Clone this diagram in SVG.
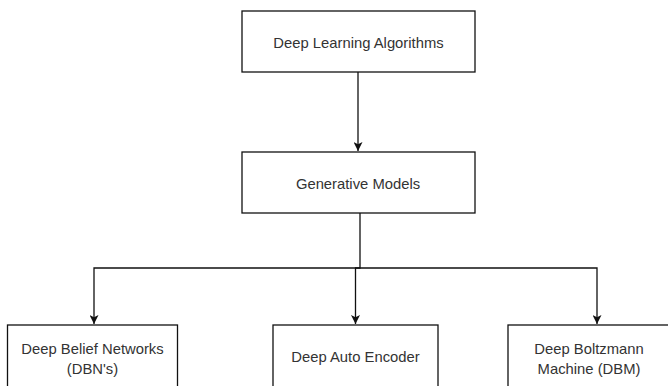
<svg xmlns="http://www.w3.org/2000/svg" width="668" height="386" viewBox="0 0 668 386">
<defs>
<style>
.box{fill:#fff;stroke:#111;stroke-width:1.3}
.t{font-family:"Liberation Sans",Arial,sans-serif;font-size:14.8px;fill:#333;text-anchor:middle}
.c{fill:none;stroke:#111;stroke-width:1.3}
</style>
<marker id="ah" viewBox="0 0 10 10" refX="10" refY="5" markerWidth="9" markerHeight="9" markerUnits="userSpaceOnUse" orient="auto">
<path d="M0,0 L10,5 L0,10 L2.5,5 Z" fill="#111"/>
</marker>
</defs>
<rect width="668" height="386" fill="#fff"/>
<g id="connectors">
<path class="c" d="M358,72 V151" marker-end="url(#ah)"/>
<path class="c" d="M360,213 V268 H94 V324" marker-end="url(#ah)"/>
<path class="c" d="M360,268 H355.5 V324" marker-end="url(#ah)"/>
<path class="c" d="M360,268 H597 V324" marker-end="url(#ah)"/>
</g>
<g id="dla">
<rect class="box" x="242" y="11" width="233" height="61"/>
<text class="t" x="358.5" y="47.5">Deep Learning Algorithms</text>
</g>
<g id="gen">
<rect class="box" x="242" y="152" width="233" height="61"/>
<text class="t" x="358" y="188.5">Generative Models</text>
</g>
<g id="dbn">
<rect class="box" x="7.5" y="325" width="170" height="70"/>
<text class="t" x="92.5" y="353.5">Deep Belief Networks</text>
<text class="t" x="92.5" y="373.5">(DBN's)</text>
</g>
<g id="dae">
<rect class="box" x="273" y="325" width="165" height="70"/>
<text class="t" x="355.5" y="361.5">Deep Auto Encoder</text>
</g>
<g id="dbm">
<rect class="box" x="508" y="325" width="163" height="70"/>
<text class="t" x="589" y="353.5">Deep Boltzmann</text>
<text class="t" x="589" y="373.5">Machine (DBM)</text>
</g>
</svg>
